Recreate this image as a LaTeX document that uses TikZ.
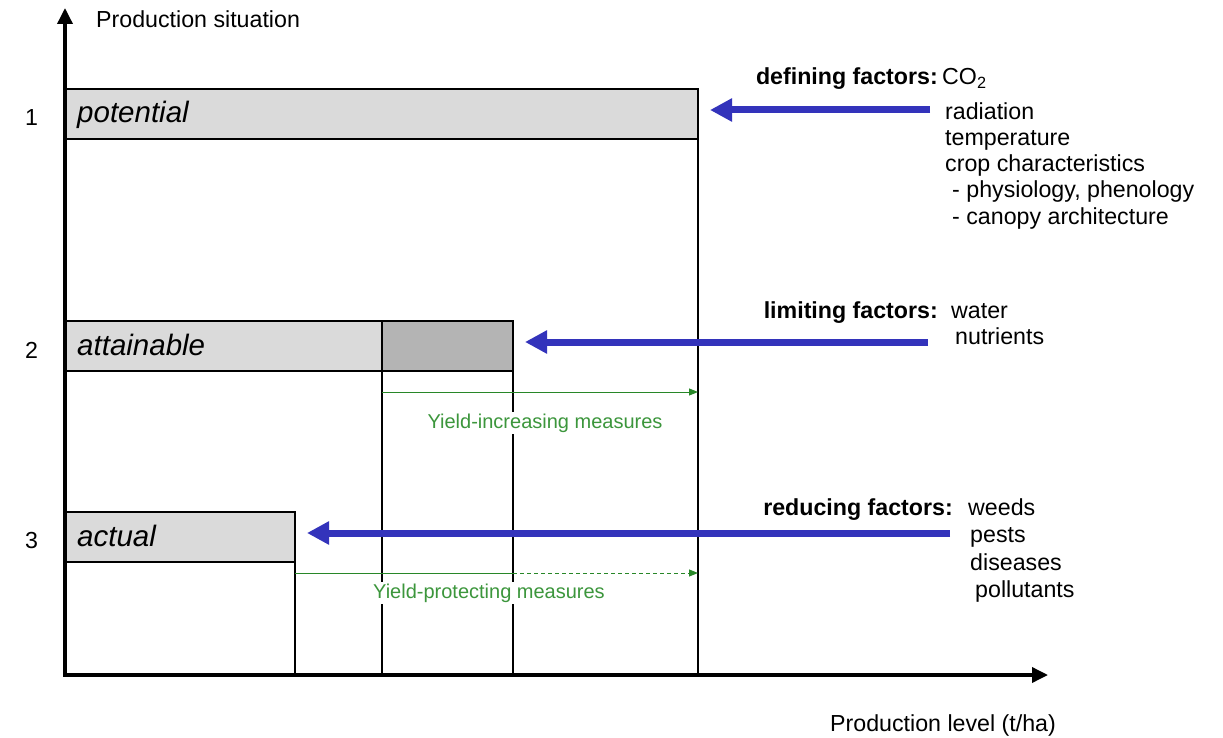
\documentclass[tikz,border=0pt]{standalone}
\usepackage{fontspec}
\setmainfont{Liberation Sans}
\usetikzlibrary{arrows.meta}
\definecolor{bluearr}{RGB}{51,51,187}
\definecolor{greenm}{RGB}{40,135,40}
\definecolor{greent}{RGB}{60,150,60}
\definecolor{boxlight}{RGB}{218,218,218}
\definecolor{boxdark}{RGB}{180,180,180}
\begin{document}
\begin{tikzpicture}[x=1pt,y=-1pt,
  axis/.style={line width=3.5pt,-{Triangle[length=16pt,width=15pt]}},
  sbox/.style={draw,line width=1.4pt,fill=boxlight,minimum height=50pt,inner sep=0pt,outer sep=0pt,anchor=north west},
  vline/.style={line width=1.2pt},
  barrow/.style={draw=bluearr,line width=7pt,-{Triangle[length=22pt,width=22pt]}},
  garrow/.style={draw=greenm,line width=1pt,-{Triangle[length=9pt,width=7pt]}},
  gline/.style={draw=greenm,line width=1pt},
  lbl/.style={inner sep=0pt,anchor=base west,font=\fontsize{23.2}{26}\selectfont},
  blbl/.style={inner sep=0pt,anchor=base east,font=\fontsize{23.2}{26}\selectfont\bfseries},
  ilbl/.style={inner sep=0pt,anchor=base west,font=\fontsize{29.5}{32}\selectfont\itshape},
  glbl/.style={inner sep=1.5pt,anchor=base,fill=white,text=greent,font=\fontsize{20}{23}\selectfont}]
\useasboundingbox (0,0) rectangle (1223,738);
% boxes
\node[sbox,minimum width=633pt] (pot) at (65,89) {};
\node[sbox,minimum width=317pt] (att) at (65,321) {};
\node[sbox,fill=boxdark,minimum width=131pt] (attd) at (382,321) {};
\node[sbox,minimum width=230pt] (act) at (65,512) {};
% axes
\coordinate (O) at (65,675);
\coordinate (ytip) at (65,8);
\coordinate (xtip) at (1048,675);
\draw[vline] (pot.south east) -- (pot.south east |- O);
\draw[vline] (attd.south west) -- (attd.south west |- O);
\draw[vline] (attd.south east) -- (attd.south east |- O);
\draw[vline] (act.south east) -- (act.south east |- O);
\draw[axis] ([yshift=-1.75pt]O) -- (ytip);
\draw[axis] ([xshift=-1.75pt]O) -- (xtip);
% axis labels
\node[lbl] (ylab) at (96,28) {Production situation};
\node[lbl] (xlab) at (830,731) {Production level (t/ha)};
\node[lbl] (n1) at (25,126) {1};
\node[lbl] (n2) at (25,358) {2};
\node[lbl] (n3) at (25,548) {3};
\node[ilbl] (tpot) at (77,123) {potential};
\node[ilbl] (tatt) at (77,355) {attainable};
\node[ilbl] (tact) at (77,546) {actual};
% green measures
\coordinate (g1s) at (382,392);
\coordinate (g2s) at (295,573);
\coordinate (g2m) at (513,573);
\node[glbl] (gl1) at (545,428) {Yield-increasing measures};
\node[glbl] (gl2) at (489,598) {Yield-protecting measures};
\draw[garrow] (g1s) -- (g1s -| pot.south east);
\draw[gline] (g2s) -- (g2m);
\draw[garrow,dash pattern=on 4pt off 3pt] (g2m) -- (g2m -| pot.south east);
% blue arrows
\coordinate (dtail) at (930,110);
\coordinate (ltail) at (928,342);
\coordinate (rtail) at (950,533);
\draw[barrow,shorten >=12pt] (dtail) -- (dtail -| pot.east);
\draw[barrow,shorten >=12pt] (ltail) -- (ltail -| attd.east);
\draw[barrow,shorten >=12pt] (rtail) -- (rtail -| act.east);
% defining factors
\node[blbl] (dlab) at (938,85) {defining factors:};
\node[lbl] (d0) at (942,85) {CO\textsubscript{2}};
\node[lbl] (d1) at (945,120) {radiation};
\node[lbl] (d2) at (945,146) {temperature};
\node[lbl] (d3) at (945,172) {crop characteristics};
\node[lbl] (d4) at (952,198) {- physiology, phenology};
\node[lbl] (d5) at (952,224) {- canopy architecture};
% limiting factors
\node[blbl] (llab) at (938,318) {limiting factors:};
\node[lbl] (l1) at (951,318) {water};
\node[lbl] (l2) at (955,344) {nutrients};
% reducing factors
\node[blbl] (rlab) at (953,515) {reducing factors:};
\node[lbl] (r1) at (968,515) {weeds};
\node[lbl] (r2) at (970,542) {pests};
\node[lbl] (r3) at (970,570) {diseases};
\node[lbl] (r4) at (975,597) {pollutants};
\end{tikzpicture}
\end{document}
